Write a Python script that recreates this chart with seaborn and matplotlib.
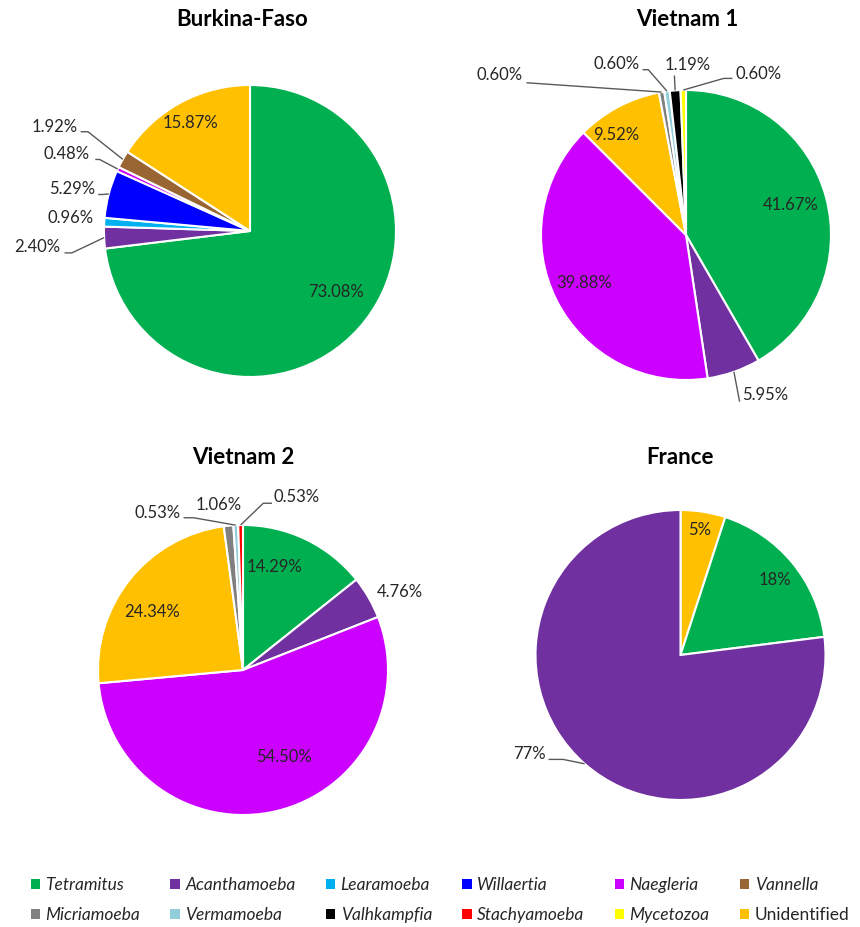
import matplotlib
matplotlib.use("Agg")
import matplotlib.pyplot as plt
from matplotlib.patches import Patch
import numpy as np
import seaborn as sns

# species and their colours (legend order)
species = ["Tetramitus", "Acanthamoeba", "Learamoeba", "Willaertia", "Naegleria", "Vannella",
           "Micriamoeba", "Vermamoeba", "Valhkampfia", "Stachyamoeba", "Mycetozoa", "Unidentified"]
species_colors = ["#00B050", "#7030A0", "#00B0F0", "#0000FF", "#CC00FF", "#996633",
                  "#808080", "#92CDDC", "#000000", "#FF0000", "#FFFF00", "#FFC000"]

# slices of each pie, clockwise from 12 o'clock
burkina_species = ["Tetramitus", "Acanthamoeba", "Learamoeba", "Willaertia", "Naegleria", "Vannella", "Unidentified"]
burkina_values = [73.08, 2.40, 0.96, 5.29, 0.48, 1.92, 15.87]

vietnam1_species = ["Tetramitus", "Acanthamoeba", "Naegleria", "Unidentified",
                    "Micriamoeba", "Vermamoeba", "Valhkampfia", "Mycetozoa"]
vietnam1_values = [41.67, 5.95, 39.88, 9.52, 0.60, 0.60, 1.19, 0.60]

vietnam2_species = ["Tetramitus", "Acanthamoeba", "Naegleria", "Unidentified",
                    "Micriamoeba", "Vermamoeba", "Stachyamoeba"]
vietnam2_values = [14.29, 4.76, 54.50, 24.34, 1.06, 0.53, 0.53]

france_species = ["Unidentified", "Tetramitus", "Acanthamoeba"]
france_values = [5, 18, 77]

sns.set_theme(style="white")
plt.rcParams["font.family"] = ["Lato", "DejaVu Sans"]

color_of = dict(zip(species, species_colors))
W, H = 860, 927
fig = plt.figure(figsize=(W / 100, H / 100), dpi=100)

# label layout per slice: (x, y, ha, leader points near the text) in pie-radius units
layouts = {
    "Burkina-Faso": [
        (0.59, -0.42, "center", None),
        (-1.30, -0.11, "right", [(-1.27, -0.15), (-1.22, -0.15)]),
        (-1.07, 0.09, "right", None),
        (-1.06, 0.29, "right", [(-1.04, 0.25), (-1.01, 0.25)]),
        (-1.10, 0.53, "right", [(-1.06, 0.49), (-1.03, 0.49)]),
        (-1.18, 0.71, "right", [(-1.16, 0.68), (-1.11, 0.68)]),
        (-0.41, 0.74, "center", None),
    ],
    "Vietnam 1": [
        (0.72, 0.21, "center", None),
        (0.39, -1.10, "left", [(0.37, -1.15)]),
        (-0.70, -0.33, "center", None),
        (-0.48, 0.69, "center", None),
        (-1.13, 1.10, "right", [(-1.10, 1.05)]),
        (-0.32, 1.18, "right", [(-0.30, 1.14), (-0.26, 1.14)]),
        (0.01, 1.17, "center", [(-0.08, 1.10)]),
        (0.34, 1.11, "left", [(0.32, 1.08), (0.26, 1.08)]),
    ],
    "Vietnam 2": [
        (0.22, 0.71, "center", None),
        (1.08, 0.54, "center", None),
        (0.28, -0.60, "center", None),
        (-0.63, 0.40, "center", None),
        (-0.17, 1.14, "center", None),
        (-0.43, 1.08, "right", [(-0.41, 1.05), (-0.34, 1.05)]),
        (0.21, 1.19, "left", [(0.20, 1.15), (0.14, 1.15)]),
    ],
    "France": [
        (0.13, 0.86, "center", None),
        (0.65, 0.52, "center", None),
        (-0.93, -0.68, "right", [(-0.91, -0.72), (-0.81, -0.72)]),
    ],
}

# title, names, values, label format, pie centre (px), radius (px), title x/y (px)
pies = [
    ("Burkina-Faso", burkina_species, burkina_values, "{:.2f}%", (250, 231), 146, 242, 20),
    ("Vietnam 1", vietnam1_species, vietnam1_values, "{:.2f}%", (686, 235), 145, 687, 20),
    ("Vietnam 2", vietnam2_species, vietnam2_values, "{:.2f}%", (243, 670), 145, 243, 458),
    ("France", france_species, france_values, "{:.0f}%", (680.5, 655), 145, 680, 458),
]

text_color = "#262626"
line_color = "#595959"

for title, names, values, fmt, (cx, cy), R, tx, ty in pies:
    half = 1.45 * R
    ax = fig.add_axes([(cx - half) / W, (H - cy - half) / H, 2 * half / W, 2 * half / H])
    wedges, _ = ax.pie(values, colors=[color_of[n] for n in names], startangle=90,
                       counterclock=False, radius=1.0,
                       wedgeprops=dict(edgecolor="white", linewidth=1.5))
    ax.set_xlim(-1.45, 1.45)
    ax.set_ylim(-1.45, 1.45)
    ax.set_aspect("equal")
    ax.axis("off")

    for w, v, (lx, ly, ha, leader) in zip(wedges, values, layouts[title]):
        ax.text(lx, ly, fmt.format(v), ha=ha, va="center", fontsize=12, color=text_color)
        if leader:
            mid = np.deg2rad((w.theta1 + w.theta2) / 2)
            pts = leader + [(np.cos(mid), np.sin(mid))]
            ax.plot([p[0] for p in pts], [p[1] for p in pts], color=line_color, lw=1,
                    solid_capstyle="butt")

    fig.text(tx / W, 1 - ty / H, title, ha="center", va="center",
             fontsize=16, fontweight="bold", color="black")

# legend: matplotlib fills column by column, so interleave the two rows
order = [i + 6 * r for i in range(6) for r in range(2)]
handles = [Patch(facecolor=species_colors[i], edgecolor="none", label=species[i]) for i in order]
leg = fig.legend(handles=handles, loc="center", bbox_to_anchor=(440 / W, 1 - 900 / H), ncol=6,
                 frameon=False, fontsize=12.5, handlelength=0.55, handleheight=0.55,
                 handletextpad=0.3, columnspacing=1.75, labelspacing=0.8)
for t in leg.get_texts():
    if t.get_text() != "Unidentified":
        t.set_fontstyle("italic")
    t.set_color(text_color)

fig.savefig("out.png", dpi=100, facecolor="white")
